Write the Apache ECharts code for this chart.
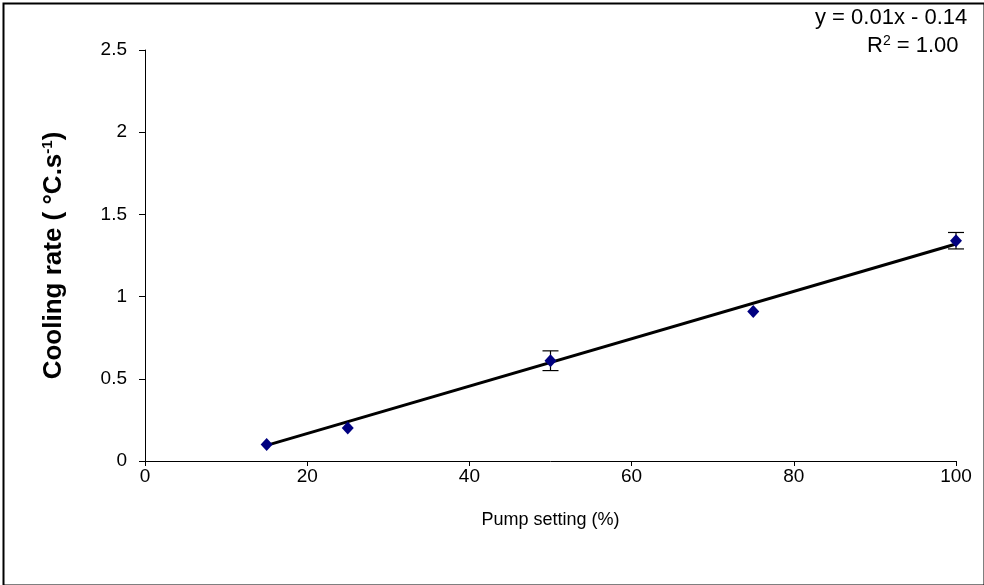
<!DOCTYPE html>
<html>
<head>
<meta charset="utf-8">
<script src="https://cdn.jsdelivr.net/npm/echarts@6/dist/echarts.min.js"></script>
<style>
  html, body { margin: 0; padding: 0; background: #fff; }
  #chart { width: 984px; height: 585px; }
</style>
</head>
<body>
<div id="chart"></div>
<script>
// pump setting (%) and measured cooling rate
const pumpSetting = [15, 25, 50, 75, 100];
const coolingRate = [0.10, 0.20, 0.61, 0.91, 1.34];
const rateError = [0, 0, 0.06, 0, 0.05];

// fitted trendline ends
const trendX = [15, 100];
const trendY = [0.095, 1.32];

const xTicks = { min: 0, max: 100, interval: 20 };
const yTicks = { min: 0, max: 2.5, interval: 0.5 };

const font = 'Arial, "Liberation Sans", sans-serif';

const points = pumpSetting.map((x, i) => [x, coolingRate[i]]);
const errData = pumpSetting.map((x, i) => [x, coolingRate[i] - rateError[i], coolingRate[i] + rateError[i]]);
const trend = trendX.map((x, i) => [x, trendY[i]]);

const chart = echarts.init(document.getElementById('chart'));

chart.setOption({
    animation: false,
    backgroundColor: '#fff',
    grid: { left: 145, right: 28, top: 50, bottom: 124 },
    xAxis: {
        type: 'value',
        min: xTicks.min, max: xTicks.max, interval: xTicks.interval,
        name: 'Pump setting (%)',
        nameLocation: 'middle',
        nameGap: 50,
        nameTextStyle: { fontFamily: font, fontSize: 18, color: '#000' },
        axisLine: { lineStyle: { color: '#000', width: 1 } },
        axisTick: { length: 5, lineStyle: { color: '#000' } },
        axisLabel: { fontFamily: font, fontSize: 19, color: '#000', margin: 6 },
        splitLine: { show: false }
    },
    yAxis: {
        type: 'value',
        min: yTicks.min, max: yTicks.max, interval: yTicks.interval,
        name: '{t|Cooling rate ( °C.s}{s|-1}{t|)}',
        nameLocation: 'middle',
        nameGap: 78,
        nameTextStyle: {
            rich: {
                t: { fontFamily: font, fontSize: 26, fontWeight: 'bold', color: '#000' },
                s: { fontFamily: font, fontSize: 15, fontWeight: 'bold', color: '#000', verticalAlign: 'top', padding: [0, 0, 12, 0] }
            }
        },
        axisLine: { show: true, lineStyle: { color: '#000', width: 1 } },
        axisTick: { show: true, length: 6, lineStyle: { color: '#000' } },
        axisLabel: { fontFamily: font, fontSize: 19, color: '#000', margin: 18 },
        splitLine: { show: false }
    },
    series: [
        {
            type: 'line',
            data: trend,
            symbol: 'none',
            lineStyle: { color: '#000', width: 3 },
            z: 3
        },
        {
            type: 'custom',
            data: errData,
            z: 4,
            renderItem: (params, api) => {
                const x = api.value(0);
                const lo = api.coord([x, api.value(1)]);
                const hi = api.coord([x, api.value(2)]);
                if (Math.abs(hi[1] - lo[1]) < 1) return null;
                const w = 8;
                const st = { stroke: '#000', lineWidth: 1.2 };
                return {
                    type: 'group',
                    children: [
                        { type: 'line', shape: { x1: lo[0], y1: lo[1], x2: hi[0], y2: hi[1] }, style: st },
                        { type: 'line', shape: { x1: lo[0] - w, y1: lo[1], x2: lo[0] + w, y2: lo[1] }, style: st },
                        { type: 'line', shape: { x1: hi[0] - w, y1: hi[1], x2: hi[0] + w, y2: hi[1] }, style: st }
                    ]
                };
            }
        },
        {
            type: 'scatter',
            data: points,
            symbol: 'diamond',
            symbolSize: [12, 13],
            itemStyle: { color: '#000080', opacity: 1 },
            z: 5
        }
    ],
    graphic: [
        {
            type: 'rect',
            left: 1, top: 1,
            shape: { width: 981, height: 582 },
            style: { fill: 'none', stroke: '#000', lineWidth: 2 }
        },
        {
            type: 'text',
            left: 815, top: 7,
            style: { text: 'y = 0.01x - 0.14', font: '22px ' + font, fill: '#000' }
        },
        {
            type: 'text',
            left: 867, top: 34,
            style: {
                text: '{t|R}{s|2}{t| = 1.00}',
                rich: {
                    t: { fontFamily: font, fontSize: 22, color: '#000' },
                    s: { fontFamily: font, fontSize: 14, color: '#000', verticalAlign: 'top', padding: [0, 0, 10, 0] }
                }
            }
        }
    ]
});
</script>
</body>
</html>
